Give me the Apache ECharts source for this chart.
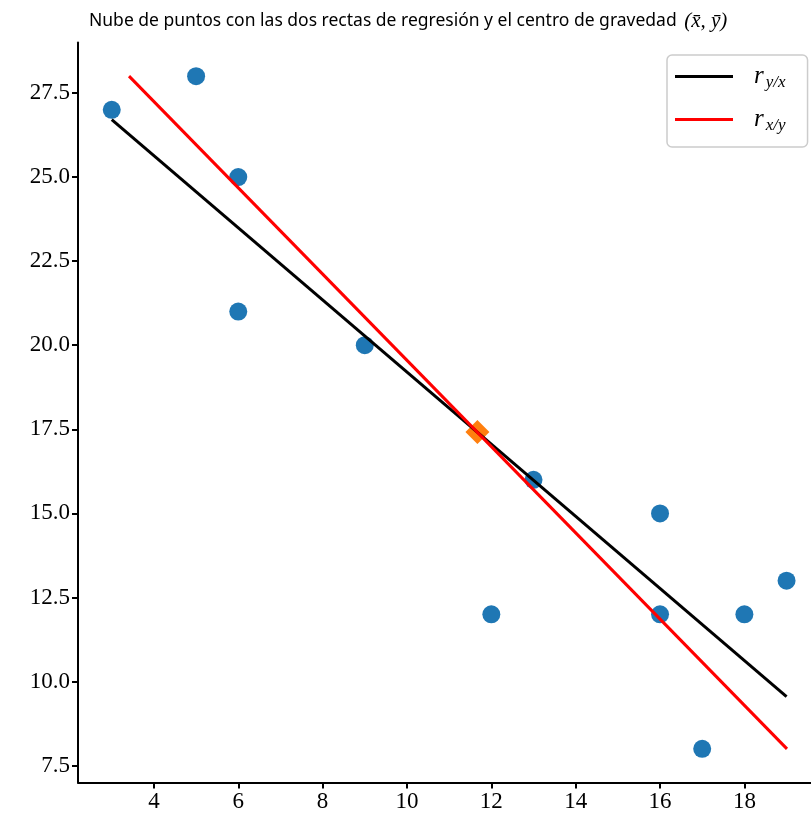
<!DOCTYPE html>
<html>
<head>
<meta charset="utf-8">
<script src="https://cdn.jsdelivr.net/npm/echarts@6/dist/echarts.min.js"></script>
<style>html,body{margin:0;padding:0;background:#fff;overflow:hidden;width:811px;height:820px}#c{width:821px;height:820px}</style>
</head>
<body>
<div id="c"></div>
<script>
// Data
const pointsX = [3, 5, 6, 6, 9, 12, 13, 16, 16, 17, 18, 19];
const pointsY = [27, 28, 25, 21, 20, 12, 16, 15, 12, 8, 12, 13];
const centroidX = [11.67];
const centroidY = [17.42];
const lineYXx = [3, 19];
const lineYXy = [26.71, 9.55];
const lineXYx = [3.41, 19.01];
const lineXYy = [28, 8];
const xTicks = [4, 6, 8, 10, 12, 14, 16, 18];
const yTicks = [7.5, 10, 12.5, 15, 17.5, 20, 22.5, 25, 27.5];

const zip = (a, b) => a.map((v, i) => [v, b[i]]);
const serif = "'Liberation Serif', 'DejaVu Serif', serif";

const chart = echarts.init(document.getElementById('c'));
chart.setOption({
  animation: false,
  backgroundColor: '#fff',
  title: {
    left: 84, top: 6,
    text: '{a|Nube de puntos con las dos rectas de regresión y el centro de gravedad }{m|(x̄, ȳ)}',
    textStyle: {
      fontWeight: 'normal',
      rich: {
        a: {fontFamily: "'Noto Sans', sans-serif", fontSize: 17.5, fontWeight: 'normal', color: '#000'},
        m: {fontFamily: serif, fontSize: 21, fontStyle: 'italic', fontWeight: 'normal', color: '#000', padding: [0, 0, 0, 3]}
      }
    }
  },
  grid: {left: 78, top: 42.5, right: 0.7, bottom: 37.5, containLabel: false},
  xAxis: {
    type: 'value', min: 2.2, max: 19.8,
    splitLine: {show: false},
    axisLine: {show: true, onZero: false, lineStyle: {color: '#000', width: 2}},
    axisTick: {show: true, length: 6, lineStyle: {color: '#000', width: 2}, customValues: xTicks},
    axisLabel: {customValues: xTicks, color: '#000', fontFamily: serif, fontSize: 23, margin: 8}
  },
  yAxis: {
    type: 'value', min: 7, max: 29,
    splitLine: {show: false},
    axisLine: {show: true, onZero: false, lineStyle: {color: '#000', width: 2}},
    axisTick: {show: true, length: 6, lineStyle: {color: '#000', width: 2}, customValues: yTicks},
    axisLabel: {customValues: yTicks, color: '#000', fontFamily: serif, fontSize: 23, margin: 8,
      formatter: v => Number(v).toFixed(1)}
  },
  legend: {
    left: 667, top: 55, orient: 'vertical',
    data: ['ryx', 'rxy'],
    itemWidth: 58, itemHeight: 3, itemGap: 16,
    padding: [9, 22, 13, 8],
    borderColor: '#cccccc', borderWidth: 1.5, borderRadius: 5,
    backgroundColor: '#fff',
    icon: 'rect',
    formatter: n => n === 'ryx' ? '{r|r}{s|y/x}' : '{r|r}{s|x/y}',
    textStyle: {
      padding: [0, 0, 0, 16],
      rich: {
        r: {fontFamily: serif, fontStyle: 'italic', fontSize: 25, color: '#000'},
        s: {fontFamily: serif, fontStyle: 'italic', fontSize: 17, color: '#000', padding: [12, 0, 0, 2]}
      }
    }
  },
  series: [
    {
      name: 'puntos', type: 'scatter', data: zip(pointsX, pointsY),
      symbol: 'circle', symbolSize: 18, itemStyle: {color: '#1f77b4', opacity: 1}, z: 2
    },
    {
      name: 'centro', type: 'scatter', data: zip(centroidX, centroidY),
      symbol: 'diamond', symbolSize: [24, 24], itemStyle: {color: '#ff7f0e', opacity: 1}, z: 3
    },
    {
      name: 'ryx', type: 'line', data: zip(lineYXx, lineYXy), showSymbol: false, symbol: 'none',
      lineStyle: {color: '#000', width: 3}, itemStyle: {color: '#000'}, z: 4
    },
    {
      name: 'rxy', type: 'line', data: zip(lineXYx, lineXYy), showSymbol: false, symbol: 'none',
      lineStyle: {color: '#ff0000', width: 3}, itemStyle: {color: '#ff0000'}, z: 5
    }
  ]
});
</script>
</body>
</html>
